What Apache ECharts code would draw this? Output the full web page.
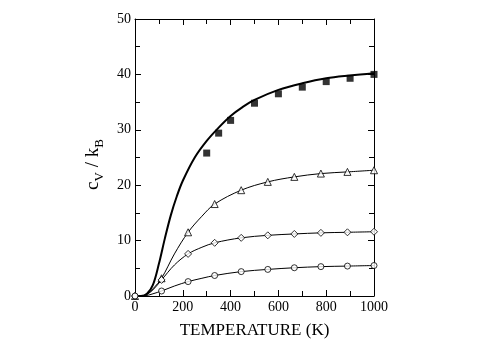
<!DOCTYPE html>
<html lang="en">
<head>
<meta charset="UTF-8">
<title>cV / kB vs temperature</title>
<script src="https://cdn.jsdelivr.net/npm/echarts@6/dist/echarts.min.js"></script>
<style>
    html, body { margin: 0; padding: 0; background: #fff; }
    #main { width: 477px; height: 351px; }
</style>
</head>
<body>
<div id="main"></div>
<script>
    // solid theory curve (no markers)
    var curveT = [0, 25, 50, 75, 100, 125, 150, 175, 200, 250, 300, 350, 400, 450, 500, 600, 700, 800, 900, 1000];
    var curveCv = [0, 0, 0.4, 2.0, 5.8, 10.4, 14.6, 18.0, 20.8, 25.0, 28.0, 30.4, 32.5, 34.1, 35.4, 37.2, 38.4, 39.3, 39.8, 40.2];

    // experimental points (filled squares)
    var exptT = [300, 350, 400, 500, 600, 700, 800, 900, 1000];
    var exptCv = [25.8, 29.4, 31.7, 34.8, 36.5, 37.7, 38.7, 39.3, 40.0];

    // marker positions shared by the three lower curves
    var markT = [0, 111.1, 222.2, 333.3, 444.4, 555.6, 666.7, 777.8, 888.9, 1000];
    var triCv = [0, 3.2, 11.5, 16.6, 19.1, 20.6, 21.5, 22.1, 22.4, 22.7];
    var diaCv = [0, 2.9, 7.6, 9.6, 10.5, 10.95, 11.2, 11.4, 11.5, 11.6];
    var circCv = [0, 0.9, 2.6, 3.7, 4.4, 4.8, 5.1, 5.3, 5.4, 5.5];

    // extra low-temperature points for the lines between markers
    var lowT = [25, 50, 75, 165, 280];
    var lowTri = [0, 0.3, 1.3, 7.6, 14.4];
    var lowDia = [0, 0.3, 1.1, 5.6, 8.8];
    var lowCirc = [0, 0.1, 0.4, 1.8, 3.2];

    var xTicks = [0, 200, 400, 600, 800, 1000];
    var yTicks = [0, 10, 20, 30, 40, 50];

    function pairs(xs, ys) {
        return xs.map(function (x, i) { return [x, ys[i]]; });
    }
    function lineData(lx, ly, mx, my) {
        return pairs(lx, ly).concat(pairs(mx, my)).sort(function (a, b) { return a[0] - b[0]; });
    }

    var font = '"Liberation Serif", "DejaVu Serif", serif';
    var chart = echarts.init(document.getElementById('main'));

    var baseX = {
        type: 'value', min: xTicks[0], max: xTicks[xTicks.length - 1], interval: 200,
        axisLine: { show: true, onZero: false, lineStyle: { color: '#000', width: 1 } },
        axisTick: { show: true, inside: true, length: 6, lineStyle: { color: '#000' } },
        minorTick: { show: true, splitNumber: 2, length: 5, lineStyle: { color: '#000' } },
        splitLine: { show: false }
    };
    var baseY = {
        type: 'value', min: yTicks[0], max: yTicks[yTicks.length - 1], interval: 10,
        axisLine: { show: true, onZero: false, lineStyle: { color: '#000', width: 1 } },
        axisTick: { show: true, inside: true, length: 6, lineStyle: { color: '#000' } },
        minorTick: { show: true, splitNumber: 2, length: 5, lineStyle: { color: '#000' } },
        splitLine: { show: false }
    };

    var option = {
        animation: false,
        backgroundColor: '#fff',
        grid: { left: 135, right: 103, top: 19, bottom: 55, containLabel: false },
        xAxis: [
            Object.assign({}, baseX, {
                position: 'bottom',
                name: 'TEMPERATURE (K)',
                nameLocation: 'middle',
                nameGap: 26,
                nameTextStyle: { fontFamily: font, fontSize: 17, color: '#000' },
                axisLabel: {
                    show: true, margin: 4, fontFamily: font, fontSize: 14, color: '#000',
                    formatter: function (v) { return String(v); }
                }
            }),
            Object.assign({}, baseX, { position: 'top', axisLabel: { show: false } })
        ],
        yAxis: [
            Object.assign({}, baseY, {
                position: 'left',
                name: '{a|c}{s|V}{a| / k}{s|B}',
                nameLocation: 'middle',
                nameRotate: 90,
                nameGap: 27,
                nameTextStyle: {
                    color: '#000',
                    padding: [0, 14, 0, 0],
                    rich: {
                        a: { fontFamily: font, fontSize: 19, color: '#000', lineHeight: 24, verticalAlign: 'bottom' },
                        s: { fontFamily: font, fontSize: 13, color: '#000', lineHeight: 14, verticalAlign: 'bottom', padding: [0, 0, -4, 0] }
                    }
                },
                axisLabel: { show: true, margin: 4, fontFamily: font, fontSize: 14, color: '#000' }
            }),
            Object.assign({}, baseY, { position: 'right', axisLabel: { show: false } })
        ],
        series: [
            {
                type: 'line', data: pairs(curveT, curveCv), showSymbol: false,
                smooth: 0.35,
                lineStyle: { color: '#000', width: 2 }, z: 3
            },
            {
                type: 'scatter', data: pairs(exptT, exptCv), symbol: 'rect', symbolSize: 7,
                itemStyle: { color: '#000' }, z: 4
            },
            {
                type: 'line', data: lineData(lowT, lowTri, markT, triCv), showSymbol: false,
                smooth: 0.35,
                lineStyle: { color: '#000', width: 1 }, z: 2
            },
            {
                type: 'scatter', data: pairs(markT, triCv), symbol: 'triangle', symbolSize: 7,
                itemStyle: { color: '#fff', borderColor: '#000', borderWidth: 1 }, z: 5
            },
            {
                type: 'line', data: lineData(lowT, lowDia, markT, diaCv), showSymbol: false,
                smooth: 0.35,
                lineStyle: { color: '#000', width: 1 }, z: 2
            },
            {
                type: 'scatter', data: pairs(markT, diaCv), symbol: 'diamond', symbolSize: 7,
                itemStyle: { color: '#fff', borderColor: '#000', borderWidth: 1 }, z: 5
            },
            {
                type: 'line', data: lineData(lowT, lowCirc, markT, circCv), showSymbol: false,
                smooth: 0.35,
                lineStyle: { color: '#000', width: 1 }, z: 2
            },
            {
                type: 'scatter', data: pairs(markT, circCv), symbol: 'circle', symbolSize: 6,
                itemStyle: { color: '#fff', borderColor: '#000', borderWidth: 1 }, z: 5
            }
        ]
    };
    chart.setOption(option);
</script>
</body>
</html>
